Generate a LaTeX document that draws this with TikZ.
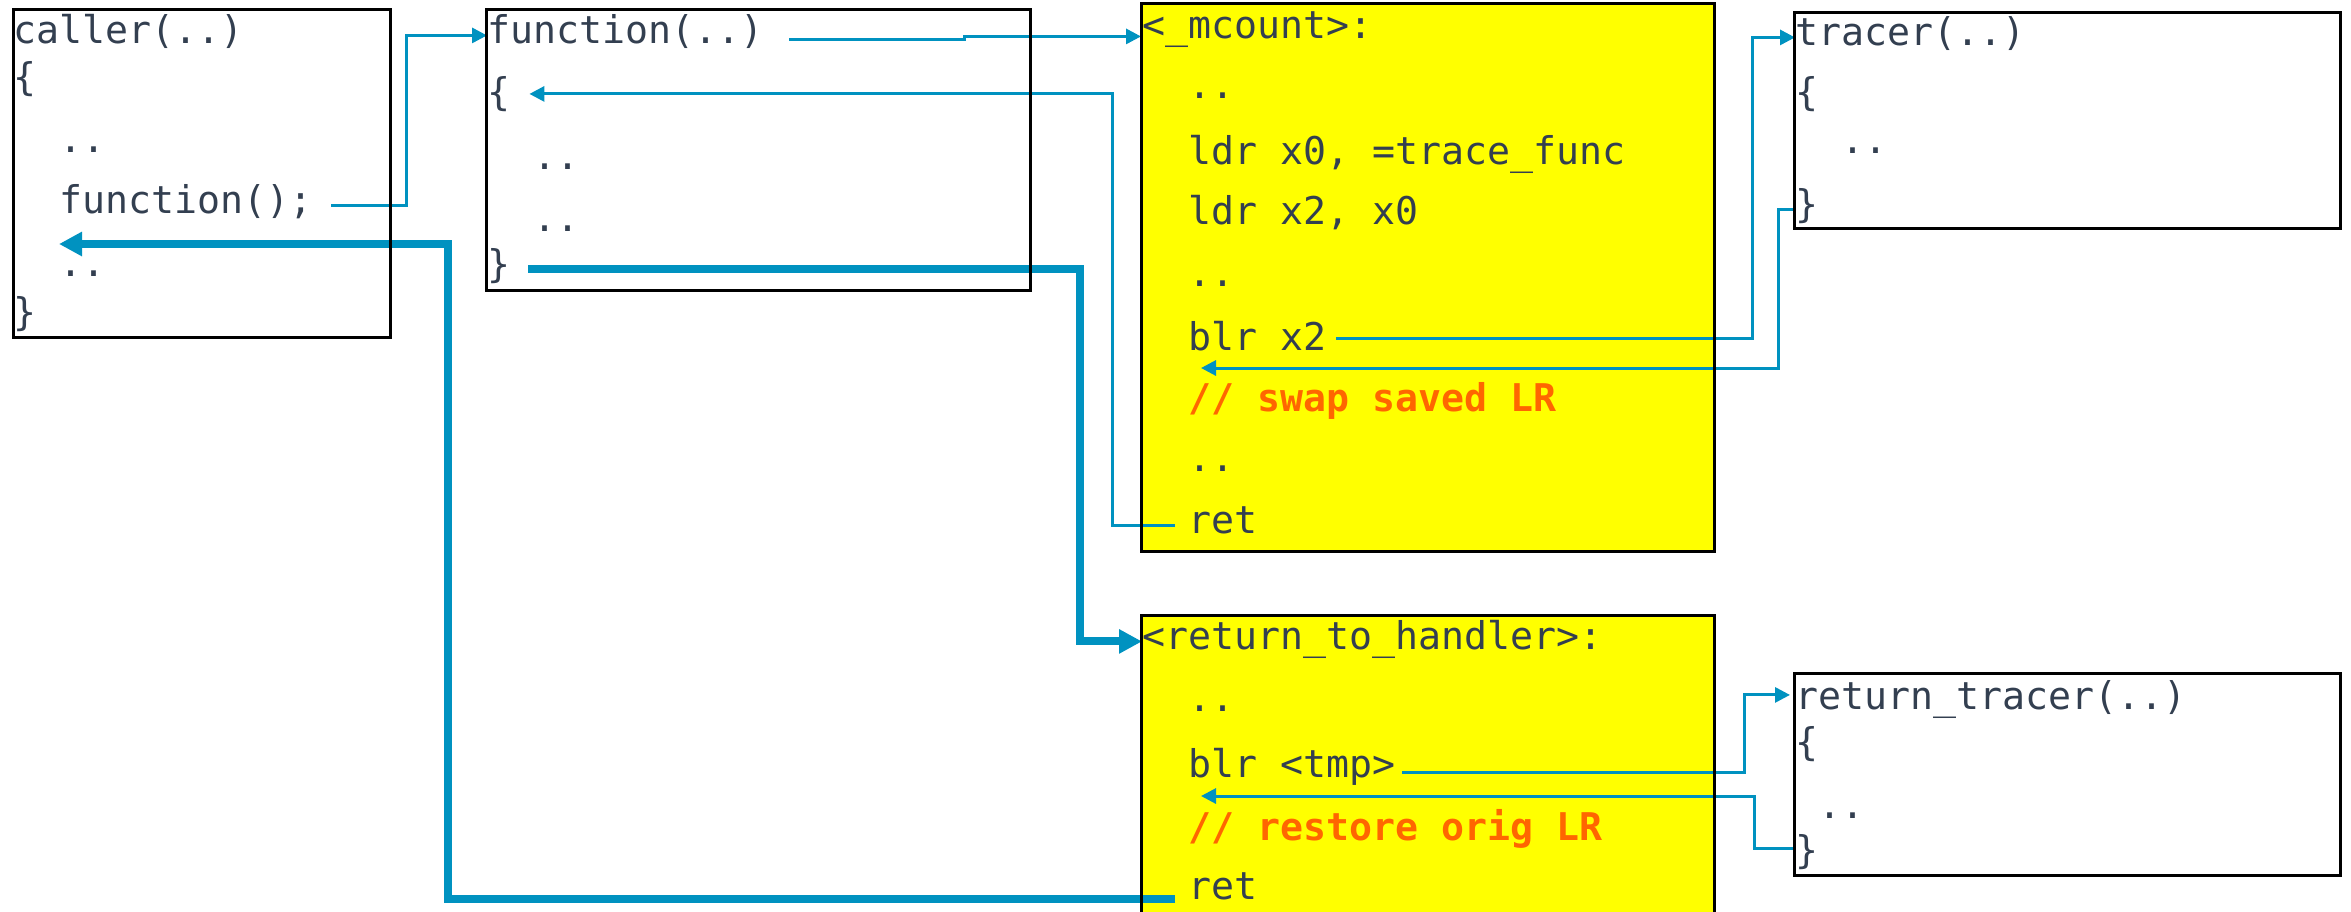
\documentclass[tikz,border=0pt]{standalone}
\usepackage{fontspec}
\newfontfamily\codefont{DejaVu Sans Mono}
\usetikzlibrary{arrows.meta}

\definecolor{codeink}{RGB}{51,63,80}
\definecolor{flowblue}{RGB}{0,146,192}
\definecolor{hiyellow}{RGB}{255,255,0}
\definecolor{remark}{RGB}{255,102,0}

\tikzset{
  code/.style={font=\codefont\fontsize{10.87pt}{13pt}\selectfont, text=codeink,
               inner sep=0pt, anchor=base west},
  remarktext/.style={code, text=remark,
               font=\codefont\bfseries\fontsize{10.87pt}{13pt}\selectfont},
  frame/.style={draw=black, line width=0.3mm},
  panel/.style={fill=hiyellow},
  call/.style={draw=flowblue, line width=0.3mm,
               -{Triangle[length=1.5mm,width=1.5mm]}},
  thickflow/.style={draw=flowblue, line width=0.8mm,
               -{Triangle[length=2.3mm,width=2.3mm]}},
}

\begin{document}
\begin{tikzpicture}[x=0.1mm, y=-0.1mm]
\useasboundingbox (0,0) rectangle (2351,911);

% highlighted assembly stubs (fill only, frames come later)
\fill[panel] (1141,3) rectangle (1714,551);
\fill[panel] (1141,615) rectangle (1714,930);

% caller
\node[code] (chead)  at (13,43)  {caller(..)};
\node[code] (copen)  at (13,90)  {\{};
\node[code] (c2)     at (59,152) {..};
\node[code] (cfun)   at (59,213) {function();};
\node[code] (c4)     at (59,276) {..};
\node[code] (cclose) at (13,325) {\}};

% function
\node[code] (fhead)  at (487,43)  {function(..)};
\node[code] (fopen)  at (487,105) {\{};
\node[code] (f2)     at (533,169) {..};
\node[code] (f3)     at (533,231) {..};
\node[code] (fclose) at (487,277) {\}};

% _mcount
\node[code] (mhead) at (1142,38)  {<\_mcount>:};
\node[code] (m1)    at (1188,98)  {..};
\node[code] (m2)    at (1188,164) {ldr x0, =trace\_func};
\node[code] (m3)    at (1188,224) {ldr x2, x0};
\node[code] (m4)    at (1188,286) {..};
\node[code] (mblr)  at (1188,350) {blr x2};
\node[remarktext] (mswap) at (1188,411) {// swap saved LR};
\node[code] (m7)    at (1188,471) {..};
\node[code] (mret)  at (1188,533) {ret};

% tracer
\node[code] (thead)  at (1795,45)  {tracer(..)};
\node[code] (topen)  at (1795,105) {\{};
\node[code] (t2)     at (1841,153) {..};
\node[code] (tclose) at (1795,217) {\}};

% return_to_handler
\node[code] (rhead) at (1142,649) {<return\_to\_handler>:};
\node[code] (r1)    at (1188,711) {..};
\node[code] (rblr)  at (1188,777) {blr <tmp>};
\node[remarktext] (rnote) at (1188,840) {// restore orig LR};
\node[code] (rret)  at (1188,899) {ret};

% return_tracer
\node[code] (rthead)  at (1795,709) {return\_tracer(..)};
\node[code] (rtopen)  at (1795,755) {\{};
\node[code] (rt2)     at (1818,818) {..};
\node[code] (rtclose) at (1795,863) {\}};

% routing columns
\coordinate (colA) at (406,0);
\coordinate (jog)  at (964,0);
\coordinate (colC) at (1112,0);
\coordinate (colD) at (1752,0);
\coordinate (colE) at (1778,0);
\coordinate (colF) at (1080,0);
\coordinate (colG) at (448,0);
\coordinate (colH) at (1744,0);
\coordinate (colI) at (1754,0);

% connector ends
\coordinate (aOut)  at ([xshift=1.8mm]cfun.mid east);
\coordinate (bOut)  at ([xshift=2.5mm,yshift=-0.45mm]fhead.mid east);
\coordinate (bIn)   at ([xshift=-0.1mm,yshift=-0.6mm]mhead.mid west);
\coordinate (cOut)  at ([xshift=-1.3mm]mret.mid west);
\coordinate (cIn)   at ([xshift=1.8mm,yshift=0.35mm]fopen.mid east);
\coordinate (dOut)  at ([xshift=0.9mm,yshift=0.35mm]mblr.mid east);
\coordinate (mBack) at ([xshift=1.3mm,yshift=4.3mm]mswap.base west);
\coordinate (fOut)  at ([xshift=1.7mm]fclose.mid east);
\coordinate (gOut)  at ([xshift=-1.3mm,yshift=-0.75mm]rret.mid west);
\coordinate (cBack) at ([yshift=-3.1mm]cfun.base west);
\coordinate (hOut)  at ([xshift=0.6mm,yshift=-0.35mm]rblr.mid east);
\coordinate (hIn)   at ([xshift=-0.5mm,yshift=0.65mm]rthead.mid west);
\coordinate (iOut)  at ([yshift=0.65mm]rtclose.mid west);
\coordinate (rBack) at ([xshift=1.3mm,yshift=4.4mm]rnote.base west);

% call / return flow
\draw[call] (aOut) -| (colA |- fhead.mid west) -- (fhead.mid west);
\draw[call] (bOut) -- (bOut -| jog) -- (jog |- bIn) -- (bIn);
\draw[call] (cOut) -| (colC |- cIn) -- (cIn);
\draw[call] (dOut) -| (colD |- thead.mid west) -- (thead.mid west);
\draw[call] (tclose.mid west) -| (colE |- mBack) -- (mBack);
\draw[thickflow] (fOut) -| (colF |- rhead.mid west) -- (rhead.mid west);
\draw[thickflow] (gOut) -| (colG |- cBack) -- (cBack);
\draw[call] (hOut) -| (colH |- hIn) -- (hIn);
\draw[call] (iOut) -| (colI |- rBack) -- (rBack);

% frames
\draw[frame] (13,9) rectangle (390,337);
\draw[frame] (486,9) rectangle (1030,290);
\draw[frame] (1141,3) rectangle (1714,551);
\draw[frame] (1794,12) rectangle (2340,228);
\draw[frame] (1141,615) rectangle (1714,930);
\draw[frame] (1794,673) rectangle (2340,875);
\end{tikzpicture}
\end{document}
